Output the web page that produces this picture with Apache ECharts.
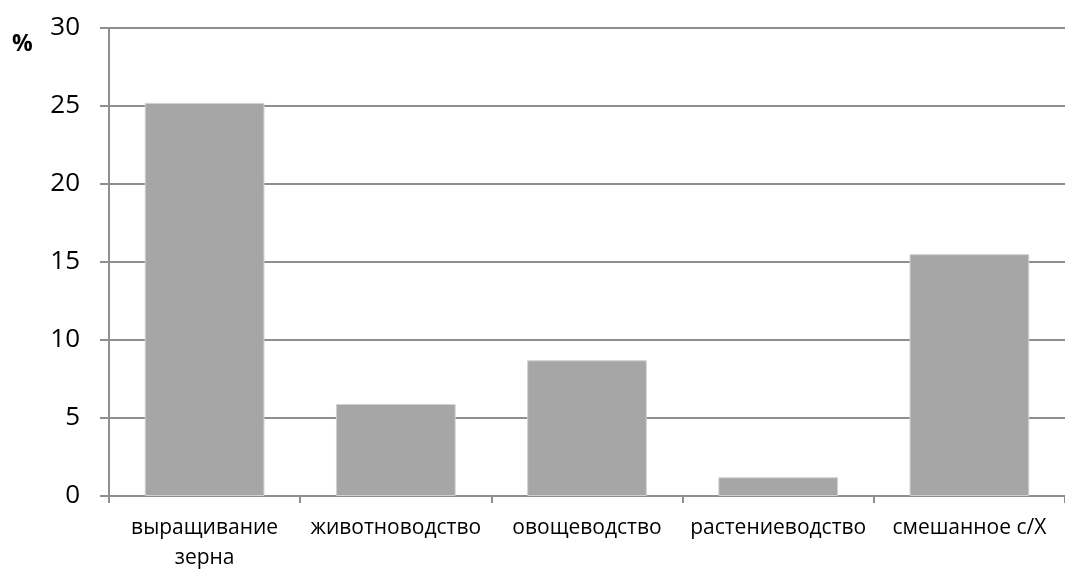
<!DOCTYPE html>
<html><head><meta charset="utf-8">
<script src="https://cdn.jsdelivr.net/npm/echarts@6/dist/echarts.min.js"></script>
<style>html,body{margin:0;padding:0;background:#fff;overflow:hidden}#c{width:1065px;height:573px;overflow:hidden}</style>
</head><body><div id="c"></div>
<script>
const categories = ['выращивание\nзерна', 'животноводство', 'овощеводство', 'растениеводство', 'смешанное с/Х'];
const values = [25.2, 5.9, 8.7, 1.2, 15.5];
const yTicks = [0, 5, 10, 15, 20, 25, 30];

const chart = echarts.init(document.getElementById('c'), null, {renderer: 'canvas', width: 1065, height: 573});
const font = '"Open Sans", "Liberation Sans", sans-serif';
const lineColor = '#8e8e8e';
chart.setOption({
  animation: false,
  backgroundColor: '#fff',
  grid: {left: 109, right: -11, top: 28, bottom: 69, containLabel: false},
  graphic: [{type: 'text', left: 12, top: 33, style: {text: '%', font: 'bold 23px ' + font, fill: '#000'}}],
  xAxis: {
    type: 'category', data: categories,
    axisLine: {lineStyle: {color: lineColor, width: 2}},
    axisTick: {show: true, length: 7, lineStyle: {color: lineColor, width: 2}},
    axisLabel: {fontFamily: font, fontSize: 21, color: '#000', margin: 17, lineHeight: 30, interval: 0}
  },
  yAxis: {
    type: 'value', min: yTicks[0], max: yTicks[yTicks.length - 1], interval: 5,
    axisLine: {show: true, lineStyle: {color: lineColor, width: 2}},
    axisTick: {show: true, length: 9, lineStyle: {color: lineColor, width: 2}},
    splitLine: {show: true, lineStyle: {color: lineColor, width: 2}},
    axisLabel: {fontFamily: font, fontSize: 26, color: '#000', margin: 29}
  },
  series: [{
    type: 'bar', data: values, barCategoryGap: '37.4%',
    itemStyle: {color: '#a6a6a6', borderColor: '#d0d0d0', borderWidth: 1}
  }]
});
</script></body></html>
